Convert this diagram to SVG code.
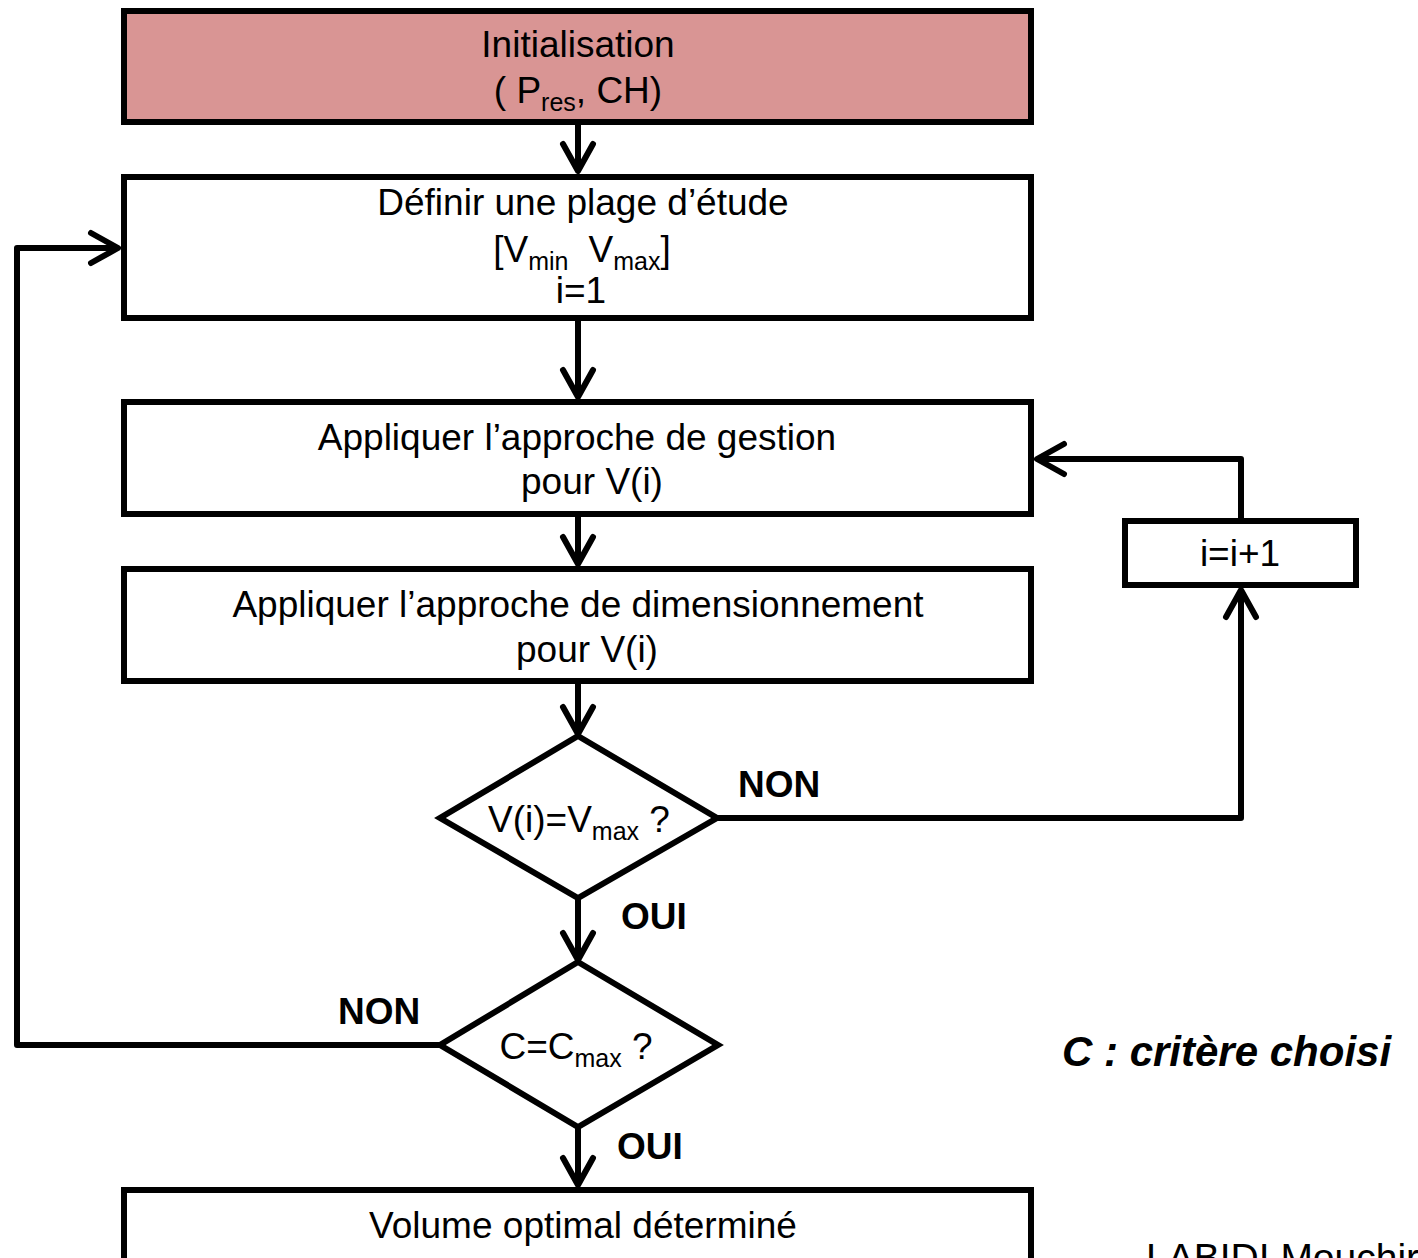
<svg xmlns="http://www.w3.org/2000/svg" width="1418" height="1258" viewBox="0 0 1418 1258">
<defs>
<style>
.box{fill:#fff;stroke:#000;stroke-width:6}
.init{fill:#d99594;stroke:#000;stroke-width:6}
.t{font-family:"Liberation Sans",Arial,sans-serif;font-size:37px;fill:#000;text-anchor:middle}
.lbl{font-family:"Liberation Sans",Arial,sans-serif;font-size:37px;font-weight:bold;fill:#000}
.c{fill:none;stroke:#000;stroke-width:6;stroke-linejoin:round}
.sub{font-size:25px}
</style>
<marker id="ah" markerUnits="userSpaceOnUse" viewBox="-34 -20 40 40" refX="0" refY="0" markerWidth="40" markerHeight="40" orient="auto">
<path d="M-27,-15 L0,0 L-27,15" fill="none" stroke="#000" stroke-width="6" stroke-linecap="round" stroke-linejoin="round"/>
</marker>
</defs>
<rect width="1418" height="1258" fill="#fff"/>
<g id="connectors">
<path class="c" d="M578,125 V171" marker-end="url(#ah)"/>
<path class="c" d="M578,321 V397" marker-end="url(#ah)"/>
<path class="c" d="M578,517 V564" marker-end="url(#ah)"/>
<path class="c" d="M578,684 V734" marker-end="url(#ah)"/>
<path class="c" d="M578,898 V960" marker-end="url(#ah)"/>
<path class="c" d="M578,1127 V1185" marker-end="url(#ah)"/>
<path class="c" d="M717,818 H1241 V590" marker-end="url(#ah)"/>
<path class="c" d="M1241,518 V459 H1037" marker-end="url(#ah)"/>
<path class="c" d="M440,1045 H17 V248 H118" marker-end="url(#ah)"/>
</g>
<g id="init">
<rect class="init" x="124" y="11" width="907" height="111"/>
<text class="t" x="578" y="57">Initialisation</text>
<text class="t" x="578" y="103">( P<tspan class="sub" dy="8">res</tspan><tspan dy="-8">, CH)</tspan></text>
</g>
<g id="definir">
<rect class="box" x="124" y="177" width="907" height="141"/>
<text class="t" x="583" y="215">Définir une plage d’étude</text>
<text class="t" x="582" y="262">[V<tspan class="sub" dy="8">min</tspan><tspan dy="-8" dx="20">V</tspan><tspan class="sub" dy="8">max</tspan><tspan dy="-8">]</tspan></text>
<text class="t" x="581" y="303">i=1</text>
</g>
<g id="gestion">
<rect class="box" x="124" y="402" width="907" height="112"/>
<text class="t" x="577" y="450">Appliquer l’approche de gestion</text>
<text class="t" x="592" y="494">pour V(i)</text>
</g>
<g id="dimensionnement">
<rect class="box" x="124" y="569" width="907" height="112"/>
<text class="t" x="578" y="617">Appliquer l’approche de dimensionnement</text>
<text class="t" x="587" y="662">pour V(i)</text>
</g>
<g id="decision1">
<polygon class="box" points="578,736 717,818 578,898 440,818"/>
<text class="t" x="579" y="832">V(i)=V<tspan class="sub" dy="8">max</tspan><tspan dy="-8"> ?</tspan></text>
</g>
<g id="increment">
<rect class="box" x="1125" y="521" width="231" height="64"/>
<text class="t" x="1240" y="566">i=i+1</text>
</g>
<g id="decision2">
<polygon class="box" points="578,962 718,1045 578,1127 440,1045"/>
<text class="t" x="576" y="1059">C=C<tspan class="sub" dy="8">max</tspan><tspan dy="-8"> ?</tspan></text>
</g>
<g id="volume">
<rect class="box" x="124" y="1190" width="907" height="80"/>
<text class="t" x="583" y="1238">Volume optimal déterminé</text>
</g>
<g id="labels">
<text class="lbl" x="738" y="797">NON</text>
<text class="lbl" x="621" y="929">OUI</text>
<text class="lbl" x="338" y="1024">NON</text>
<text class="lbl" x="617" y="1159">OUI</text>
<text x="1062" y="1066" font-family="Liberation Sans, Arial, sans-serif" font-size="42" font-weight="bold" font-style="italic">C : critère choisi</text>
<text x="1146" y="1271" font-family="Liberation Sans, Arial, sans-serif" font-size="39">LABIDI Mouchira</text>
</g>
</svg>
